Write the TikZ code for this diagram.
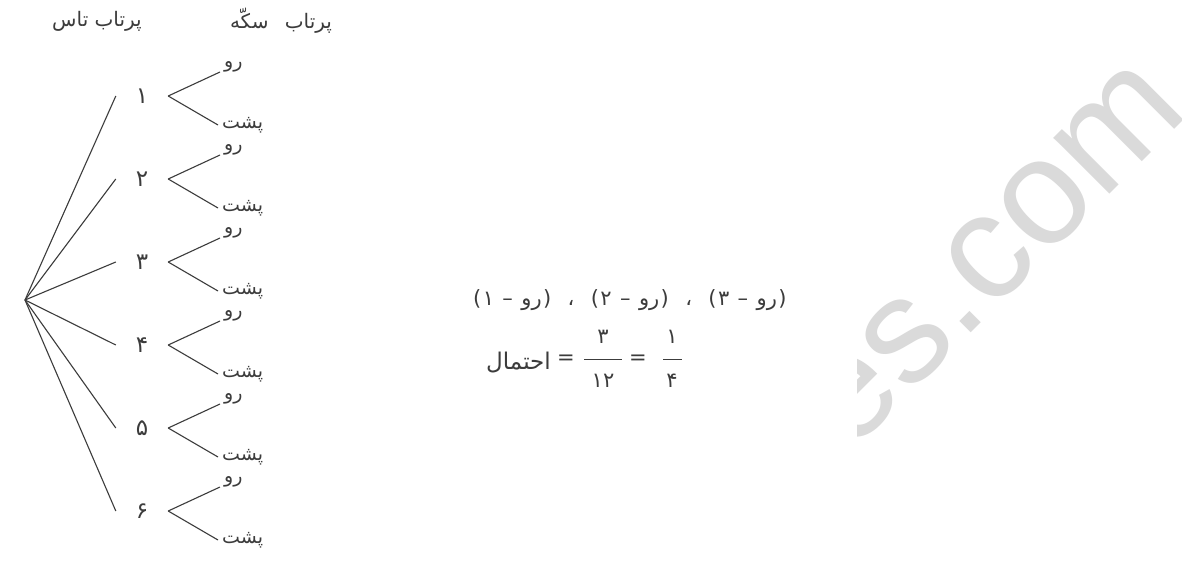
\documentclass[tikz,border=0pt]{standalone}
\usepackage{fontspec}
\TeXXeTstate=1
\newfontfamily\fa[Script=Arabic]{DejaVu Sans}
\newfontfamily\fl{DejaVu Sans}
\newfontfamily\wmfont{Liberation Sans}
\definecolor{ink}{HTML}{3C3C3C}
\definecolor{wmgray}{HTML}{DADADA}
\tikzset{
  edge/.style={draw=ink, line width=1.1pt},
  digit/.style={font=\fa\fontsize{23}{25}\selectfont, text=ink, inner sep=0pt, minimum width=52pt},
  leaf/.style={font=\fa\fontsize{19}{21}\selectfont, text=ink, inner ysep=0pt, inner xsep=4pt},
  hdr/.style={font=\fa\fontsize{20}{22}\selectfont, text=ink, inner sep=0pt},
  frm/.style={font=\fa\fontsize{21}{23}\selectfont, text=ink, inner sep=0pt},
  tok/.style={frm, anchor=base west},
  punct/.style={tok, font=\fl\fontsize{21}{23}\selectfont},
  wm/.style={font=\wmfont\fontsize{150}{150}\selectfont, text=wmgray, inner sep=0pt}
}
\begin{document}
\begin{tikzpicture}[x=1pt,y=-1pt]
\useasboundingbox (0,0) rectangle (1182,562);
\fill[white] (0,0) rectangle (1182,562);
% watermark
\begin{scope}
\clip (857,0) rectangle (1182,562);
\node[wm, rotate=45, anchor=base west] (w) at (849,455) {es.com};
\end{scope}
% headers
\node[hdr] (h1) at (97,21) {\beginR پرتاب تاس\endR};
\node[hdr] (h2) at (281,21) {\beginR پرتاب\hspace{10pt} سکّه\endR};
% tree
\coordinate (r) at (25,300);
\foreach \i/\y/\d in {1/96/۱, 2/179/۲, 3/262/۳, 4/345/۴, 5/428/۵, 6/511/۶}{
  \node[digit] (d\i) at (142,\y) {\d};
  \node[leaf, anchor=south west] (u\i) at (220,\y-24) {رو};
  \node[leaf, anchor=west] (l\i) at (218,\y+29) {پشت};
  \draw[edge] (r) -- (d\i.west);
  \draw[edge] (d\i.east) -- (u\i.south west);
  \draw[edge] (d\i.east) -- (l\i.west);
}
% formula, line 1 (visual order, left to right)
\node[punct] (o1) at (473,305) {(};
\node[punct] (g1) at ([xshift=1pt]o1.base east) {۱};
\node[punct] (s1) at ([xshift=8pt]g1.base east) {–};
\node[tok] (w1) at ([xshift=8pt]s1.base east) {رو};
\node[punct] (c1) at ([xshift=1pt]w1.base east) {)};
\node[punct] (k1) at ([xshift=16pt]c1.base east) {،};
\node[punct] (o2) at ([xshift=16pt]k1.base east) {(};
\node[punct] (g2) at ([xshift=1pt]o2.base east) {۲};
\node[punct] (s2) at ([xshift=8pt]g2.base east) {–};
\node[tok] (w2) at ([xshift=8pt]s2.base east) {رو};
\node[punct] (c2) at ([xshift=1pt]w2.base east) {)};
\node[punct] (k2) at ([xshift=16pt]c2.base east) {،};
\node[punct] (o3) at ([xshift=16pt]k2.base east) {(};
\node[punct] (g3) at ([xshift=1pt]o3.base east) {۳};
\node[punct] (s3) at ([xshift=8pt]g3.base east) {–};
\node[tok] (w3) at ([xshift=8pt]s3.base east) {رو};
\node[punct] (c3) at ([xshift=1pt]w3.base east) {)};
% line 2
\node[frm, font=\fa\fontsize{23}{25}\selectfont, anchor=east] (p) at (551,363) {احتمال};
\node[frm] (eq1) at (566,360) {=};
\node[frm] (n1) at (603,337) {۳};
\node[frm] (m1) at (603,381) {۱۲};
\draw[ink, line width=0.8pt] (584,359) -- (622,359);
\node[frm] (eq2) at (638,360) {=};
\node[frm] (n2) at (672,337) {۱};
\node[frm] (m2) at (672,381) {۴};
\draw[ink, line width=0.8pt] (663,359) -- (682,359);
\end{tikzpicture}
\end{document}
